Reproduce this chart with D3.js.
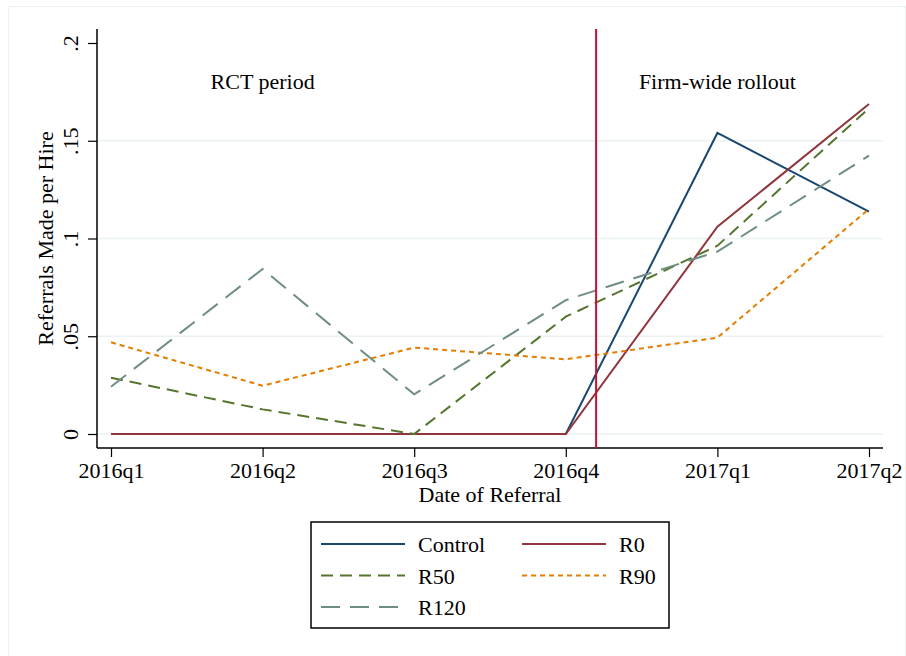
<!DOCTYPE html>
<html>
<head>
<meta charset="utf-8">
<script src="https://cdn.jsdelivr.net/npm/d3@7"></script>
<style>
  body { margin: 0; background: #fff; }
  svg { font-family: "Liberation Serif", "Times New Roman", serif; }
</style>
</head>
<body>
<script>
// quarters on the x axis
var quarters = ['2016q1', '2016q2', '2016q3', '2016q4', '2017q1', '2017q2'];

// referrals made per hire, one array per arm
var control = [0, 0, 0, 0, 0.154, 0.1137];
var r0      = [0, 0, 0, 0, 0.106, 0.1688];
var r50     = [0.0288, 0.0126, 0, 0.060, 0.0963, 0.1666];
var r90     = [0.0469, 0.0247, 0.0442, 0.0382, 0.0493, 0.1151];
var r120    = [0.0242, 0.0844, 0.0203, 0.0685, 0.0933, 0.1424];

var yTicks = [0, 0.05, 0.1, 0.15, 0.2];
var gridTicks = [0, 0.05, 0.1, 0.15];
var rolloutAt = 3.2;   // position of the xline, in quarter index

var series = [
  {name: 'Control', values: control, color: '#1a476f', dash: null},
  {name: 'R0',      values: r0,      color: '#90353b', dash: null},
  {name: 'R50',     values: r50,     color: '#55752f', dash: '12,7'},
  {name: 'R90',     values: r90,     color: '#e37e00', dash: '5,4'},
  {name: 'R120',    values: r120,    color: '#6e8e84', dash: '19,10'}
];

var _width = 906, _height = 656;
var _left = 97, _right = 883, _top = 29, _bottom = 448;

var svg = d3.select('body').append('svg')
    .attr('width', _width).attr('height', _height);

// outer frame
svg.append('rect')
    .attr('x', 8.5).attr('y', 6.5)
    .attr('width', 897).attr('height', 660)
    .attr('fill', '#fff').attr('stroke', '#eaf2f3').attr('stroke-width', 1);

var x = d3.scaleLinear().domain([0, 5]).range([111, 869]);
var y = d3.scaleLinear().domain([0, 0.2]).range([434, 43]);

// grid
svg.append('g').selectAll('line').data(gridTicks).enter().append('line')
    .attr('x1', _left).attr('x2', _right)
    .attr('y1', function(d){ return y(d); })
    .attr('y2', function(d){ return y(d); })
    .attr('stroke', '#eaf2f3').attr('stroke-width', 1.5);

// y axis
var yAxis = d3.axisLeft(y).tickValues(yTicks).tickSize(9).tickSizeOuter(0)
    .tickFormat(function(d){ return d === 0 ? '0' : d3.format('.2~f')(d).replace(/^0/, ''); });
var gy = svg.append('g').attr('transform', 'translate(' + _left + ',0)').call(yAxis);
gy.select('.domain').attr('d', 'M0,' + _top + 'V' + _bottom);
gy.selectAll('.tick line').attr('stroke', '#000').attr('stroke-width', 1.2);
gy.selectAll('.tick text')
    .attr('x', 0).attr('dy', null).attr('y', 0)
    .attr('transform', 'translate(-19,0) rotate(-90)')
    .attr('text-anchor', 'middle')
    .style('font-size', '22px').style('font-family', '"Liberation Serif", serif')
    .attr('fill', '#000');

// x axis
var xAxis = d3.axisBottom(x).ticks(6).tickSize(9).tickSizeOuter(0)
    .tickFormat(function(d){ return quarters[d]; });
var gx = svg.append('g').attr('transform', 'translate(0,' + _bottom + ')').call(xAxis);
gx.select('.domain').attr('d', 'M' + _left + ',0H' + _right);
gx.selectAll('.tick line').attr('stroke', '#000').attr('stroke-width', 1.2);
gx.selectAll('.tick text')
    .attr('y', 30).attr('dy', null)
    .style('font-size', '22px').style('font-family', '"Liberation Serif", serif')
    .attr('fill', '#000');
svg.selectAll('.domain').attr('stroke', '#000').attr('stroke-width', 1.5);

// axis titles
svg.append('text')
    .attr('x', (_left + _right) / 2).attr('y', 502)
    .attr('text-anchor', 'middle').style('font-size', '22px')
    .text('Date of Referral');
svg.append('text')
    .attr('transform', 'translate(53,' + ((_top + _bottom) / 2) + ') rotate(-90)')
    .attr('text-anchor', 'middle').style('font-size', '22px')
    .text('Referrals Made per Hire');

// lines
var line = d3.line()
    .x(function(d, i){ return x(i); })
    .y(function(d){ return y(d); });

svg.append('g').selectAll('path').data(series).enter().append('path')
    .attr('d', function(d){ return line(d.values); })
    .attr('fill', 'none')
    .attr('stroke', function(d){ return d.color; })
    .attr('stroke-width', 2)
    .attr('stroke-dasharray', function(d){ return d.dash; });

// rollout line
svg.append('line')
    .attr('x1', x(rolloutAt)).attr('x2', x(rolloutAt))
    .attr('y1', _top).attr('y2', _bottom)
    .attr('stroke', '#c8102e').attr('stroke-width', 2);

// period labels
svg.append('text').attr('x', x(1)).attr('y', y(0.18) + 7)
    .attr('text-anchor', 'middle').style('font-size', '22px').text('RCT period');
svg.append('text').attr('x', x(4)).attr('y', y(0.18) + 7)
    .attr('text-anchor', 'middle').style('font-size', '22px').text('Firm-wide rollout');

// legend
var legend = svg.append('g');
legend.append('rect')
    .attr('x', 311).attr('y', 522).attr('width', 358).attr('height', 106)
    .attr('fill', '#fff').attr('stroke', '#000').attr('stroke-width', 1.5);

var items = legend.selectAll('g.item').data(series).enter().append('g')
    .attr('class', 'item')
    .attr('transform', function(d, i){
        var col = i % 2, row = Math.floor(i / 2);
        return 'translate(' + (321 + col * 201) + ',' + (544 + row * 31.5) + ')';
    });
items.append('line')
    .attr('x1', 0).attr('x2', 84).attr('y1', 0).attr('y2', 0)
    .attr('stroke', function(d){ return d.color; })
    .attr('stroke-width', 2)
    .attr('stroke-dasharray', function(d){ return d.dash; });
items.append('text')
    .attr('x', 97).attr('y', 8)
    .style('font-size', '22px')
    .text(function(d){ return d.name; });
</script>
</body>
</html>
